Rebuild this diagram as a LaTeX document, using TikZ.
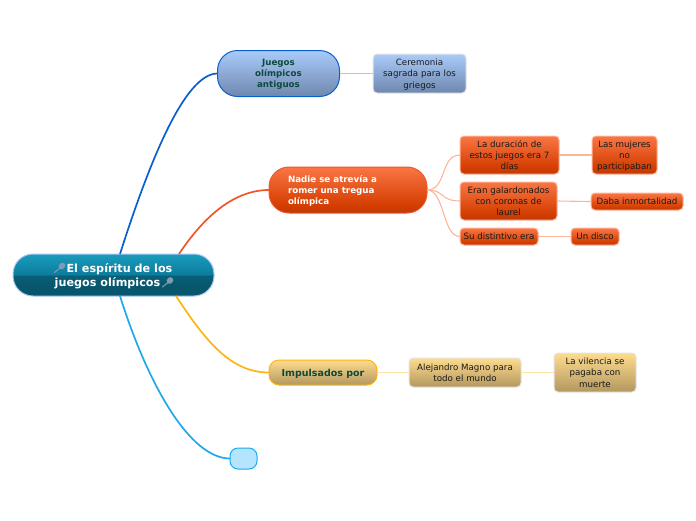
\documentclass[tikz,border=0pt]{standalone}
\usepackage{fontspec}
\setmainfont{DejaVu Sans}
\definecolor{rootA}{HTML}{1A9CBC}
\definecolor{rootB}{HTML}{0C7C9C}
\definecolor{rootC}{HTML}{0A5F78}
\definecolor{rootD}{HTML}{07566C}
\definecolor{redA}{HTML}{FA7644}
\definecolor{redB}{HTML}{D33D00}
\definecolor{redC}{HTML}{BE3A08}
\definecolor{blueA}{HTML}{A9CBFA}
\definecolor{blueB}{HTML}{6F87AE}
\definecolor{goldA}{HTML}{FEDC8E}
\definecolor{goldB}{HTML}{B3975F}
\definecolor{cyanF}{HTML}{B5E4FF}
\definecolor{cyanL}{HTML}{1FA8EC}
\definecolor{mainblue}{HTML}{0A5FD0}
\definecolor{mainred}{HTML}{F0562A}
\definecolor{maingold}{HTML}{FCB514}
\definecolor{darkgreen}{HTML}{0C4A3C}
\definecolor{paleblue}{HTML}{A9C8F4}
\definecolor{palered}{HTML}{FFB49A}
\definecolor{palegold}{HTML}{FFE3A6}
\definecolor{glow}{HTML}{E4E4E4}
\definecolor{inktext}{HTML}{1A1A1A}
\definecolor{racket}{HTML}{7E9DB4}
\pgfdeclareverticalshading{rootsh}{100bp}{color(0bp)=(rootD); color(25bp)=(rootD); color(37bp)=(rootD); color(49.9bp)=(rootC); color(50bp)=(rootB); color(75bp)=(rootA); color(100bp)=(rootA)}
\pgfdeclareverticalshading{redsh}{100bp}{color(0bp)=(redC); color(25bp)=(redC); color(33bp)=(redB); color(75bp)=(redA); color(100bp)=(redA)}
\tikzset{
  mm/.style={inner sep=0pt,outer sep=0pt,align=center,text depth=0pt,font=\fontsize{8.7}{11.3}\selectfont,text=inktext},
  bluemain/.style={mm,draw=mainblue,line width=1pt,rounded corners=20pt,top color=blueA,bottom color=blueB,text=darkgreen,font=\fontsize{8.7}{11.3}\selectfont\bfseries},
  redmain/.style={mm,draw=mainred,line width=1pt,rounded corners=20pt,shading=redsh,text=white,font=\fontsize{8.7}{11.3}\selectfont\bfseries},
  goldmain/.style={mm,draw=maingold,line width=1pt,rounded corners=10pt,top color=goldA,bottom color=goldB,text=darkgreen,font=\fontsize{9.5}{11.3}\selectfont\bfseries},
  rootbox/.style={mm,draw=paleblue,line width=1pt,rounded corners=20pt,shading=rootsh,text=white,font=\fontsize{11.2}{14}\selectfont\bfseries},
  bluesub/.style={mm,draw=glow,line width=1pt,rounded corners=4pt,top color=blueA,bottom color=blueB},
  redsub/.style={mm,draw=palered,line width=1pt,rounded corners=4pt,shading=redsh},
  goldsub/.style={mm,draw=glow,line width=1pt,rounded corners=4pt,top color=goldA,bottom color=goldB},
  cyanbox/.style={mm,draw=cyanL,line width=1pt,rounded corners=8pt,fill=cyanF},
  trunk/.style={line width=1.7pt},
  twig/.style={line width=1.1pt},
  racketline/.style={draw=racket,line width=1pt,line cap=round},
  rackethead/.style={fill=racket,draw=none}
}
\begin{document}
\begin{tikzpicture}[x=1pt,y=-1pt]
\useasboundingbox (0,0) rectangle (696,520);
% nodes
\node[rootbox,minimum width=201pt,minimum height=42pt] (root) at (113.5,275) {\hspace*{12pt}El espíritu de los\\juegos olímpicos\hspace*{12pt}};
\node[bluemain,minimum width=122pt,minimum height=46pt] (juegos) at (278.5,73.5) {Juegos\\olímpicos\\ antiguos};
\node[bluesub,minimum width=93pt,minimum height=39pt] (ceremonia) at (419.5,73.5) {Ceremonia\\sagrada para los\\griegos};
\node[redmain,minimum width=158pt,minimum height=46pt] (nadie) at (348,190) {};
\node[mm,anchor=west,align=left,text=white,font=\fontsize{8.7}{11.3}\selectfont\bfseries] (nadietext) at (288,190) {Nadie se atrevía a\\romer una tregua\\olímpica};
\node[redsub,minimum width=99pt,minimum height=38pt] (duracion) at (509.5,155) {La duración de\\estos juegos era 7\\días};
\node[redsub,minimum width=65pt,minimum height=38pt] (mujeres) at (624.5,155) {Las mujeres\\no\\participaban};
\node[redsub,minimum width=97pt,minimum height=38pt] (eran) at (508.5,201) {Eran galardonados\\con coronas de\\laurel};
\node[redsub,minimum width=92pt,minimum height=17pt] (daba) at (637,201.5) {Daba inmortalidad};
\node[redsub,minimum width=78pt,minimum height=17pt] (su) at (499,236.5) {Su distintivo era};
\node[redsub,minimum width=48pt,minimum height=17pt] (disco) at (595,236.5) {Un disco};
\node[goldmain,minimum width=108pt,minimum height=25pt] (impulsados) at (323,372.5) {Impulsados por};
\node[goldsub,minimum width=112pt,minimum height=29pt] (alejandro) at (465,372.5) {Alejandro Magno para\\todo el mundo};
\node[goldsub,minimum width=82pt,minimum height=39pt] (vilencia) at (595,372.5) {La vilencia se\\pagaba con\\muerte};
\node[cyanbox,minimum width=27pt,minimum height=21pt] (vacio) at (243.5,458.5) {};
% root attachment points
\coordinate (rj) at (120,254);
\coordinate (rn) at (179,254);
\coordinate (ri) at (176,296);
\coordinate (rv) at (120,296);
% connectors
\draw[trunk,draw=mainblue] (rj) .. controls (150,160) and (185,73.5) .. (juegos.west);
\draw[trunk,draw=mainred] (rn) .. controls (205,215) and (235,190) .. (nadie.west);
\draw[trunk,draw=maingold] (ri) .. controls (205,340) and (230,372.5) .. (impulsados.west);
\draw[trunk,draw=cyanL] (rv) .. controls (148,385) and (190,458.5) .. (vacio.west);
\draw[twig,draw=paleblue] (juegos.east) -- (ceremonia.west);
\draw[twig,draw=palered] (nadie.east) .. controls (447,190) and (440,155) .. (duracion.west);
\draw[twig,draw=palered] (nadie.east) .. controls (445,190) and (440,201) .. (eran.west);
\draw[twig,draw=palered] (nadie.east) .. controls (445,190) and (442,236.5) .. (su.west);
\draw[twig,draw=palered] (duracion.east) -- (mujeres.west);
\draw[twig,draw=palered] (eran.east) -- (daba.west);
\draw[twig,draw=palered] (su.east) -- (disco.west);
\draw[twig,draw=palegold] (impulsados.east) -- (alejandro.west);
\draw[twig,draw=palegold] (alejandro.east) -- (vilencia.west);
% rackets
\draw[racketline] (54.5,272.5) -- (60,268);
\fill[rackethead,rotate around={45:(62,266)}] (62,266) ellipse (3.6pt and 3pt);
\draw[racketline] (162.5,287) -- (168,282.5);
\fill[rackethead,rotate around={45:(170,280.5)}] (170,280.5) ellipse (3.6pt and 3pt);
\end{tikzpicture}
\end{document}
